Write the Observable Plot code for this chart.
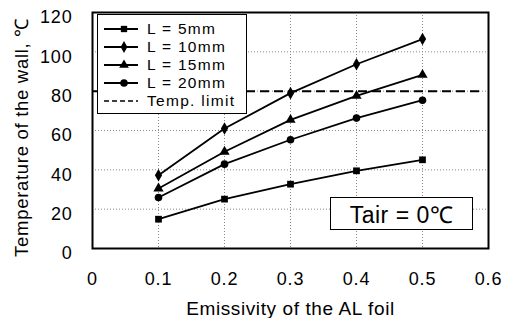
<!DOCTYPE html>
<html>
<head>
<meta charset="utf-8">
<script src="https://cdn.jsdelivr.net/npm/d3@7"></script>
<script src="https://cdn.jsdelivr.net/npm/@observablehq/plot@0.6"></script>
<style>
  html, body { margin: 0; padding: 0; background: #fff; }
  #wrap { position: relative; width: 511px; height: 318px; font-family: "Liberation Sans", Arial, sans-serif; color: #000; }
  #legend { position: absolute; left: 97px; top: 14px; width: 150px; height: 100px; background: #fff; border: 1.5px solid #000; box-sizing: border-box; padding-top: 5px; }
  .row { display: flex; align-items: center; height: 18px; font-size: 15.5px; letter-spacing: 1.3px; }
  .row svg { margin-left: 6px; margin-right: 9px; }
  #tair { position: absolute; left: 330px; top: 197px; width: 143px; height: 33px; background: #fff; border: 1.5px solid #000; box-sizing: border-box; font-size: 23px; letter-spacing: 0.5px; display: flex; align-items: center; justify-content: center; }
</style>
</head>
<body>
<div id="wrap"></div>
<script>
const emissivity = [0.1, 0.2, 0.3, 0.4, 0.5];
const L5  = [14.9, 25.1, 32.7, 39.5, 45.1];
const L10 = [37.3, 61, 79, 93.7, 106.5];
const L15 = [30.5, 49.2, 65.4, 77.6, 88.3];
const L20 = [25.9, 42.9, 55.3, 66.3, 75.4];
const seriesNames = ["L = 5mm", "L = 10mm", "L = 15mm", "L = 20mm"];
const seriesSymbols = ["square", "diamond", "triangle", "circle"];
const tempLimit = 80;
const limitLabel = "Temp. limit";
const xTicks = [0, 0.1, 0.2, 0.3, 0.4, 0.5, 0.6];
const yTicks = [0, 20, 40, 60, 80, 100, 120];
const xLabel = "Emissivity of the AL foil";
const yLabel = "Temperature of the wall, \u2103";
const note = "Tair = 0\u2103";

const allSeries = [L5, L10, L15, L20];
const data = [];
allSeries.forEach((vals, i) => vals.forEach((v, j) => data.push({x: emissivity[j], y: v, s: seriesNames[i]})));

const chart = Plot.plot({
  width: 511, height: 318,
  marginLeft: 92, marginRight: 23, marginTop: 12, marginBottom: 70,
  style: {fontFamily: '"Liberation Sans", Arial, sans-serif', color: "#000", background: "#fff"},
  x: {domain: [0, 0.6]},
  y: {domain: [0, 120]},
  symbol: {domain: seriesNames, range: seriesSymbols},
  marks: [
    Plot.gridX(emissivity, {stroke: "#888", strokeOpacity: 1, strokeDasharray: "1,2"}),
    Plot.gridY(yTicks.slice(1, -1), {stroke: "#888", strokeOpacity: 1, strokeDasharray: "1,2"}),
    Plot.ruleY([tempLimit], {stroke: "#000", strokeWidth: 2, strokeDasharray: "9,5", insetRight: 8}),
    Plot.line(data, {x: "x", y: "y", z: "s", stroke: "#000", strokeWidth: 1.8}),
    Plot.dot(data, {x: "x", y: "y", symbol: "s", fill: "#000", stroke: "none", r: 3.8}),
    Plot.frame({stroke: "#000", strokeWidth: 2}),
    Plot.axisX({ticks: xTicks, tickSize: 0, tickPadding: 24, fontSize: 18, tickFormat: d => d === 0 ? "0" : d3.format(".1f")(d),
      label: xLabel, labelAnchor: "center", labelArrow: "none", labelOffset: 66}),
    Plot.axisY({ticks: yTicks, tickSize: 0, tickPadding: 20, fontSize: 18, dy: 5,
      label: yLabel, labelAnchor: "center", labelArrow: "none", labelOffset: 78})
  ]
});
const wrap = document.getElementById("wrap");
wrap.appendChild(chart);
chart.querySelectorAll("g[aria-label='x-axis tick label'] text, g[aria-label='y-axis tick label'] text").forEach(t => t.setAttribute("letter-spacing", "0.8"));
chart.querySelectorAll("g[aria-label='x-axis label'] text").forEach(t => { t.setAttribute("font-size", 19); t.setAttribute("letter-spacing", "0.6"); });
const ys = chart.scale("y");
const yMid = (ys.apply(0) + ys.apply(120)) / 2;
chart.querySelectorAll("g[aria-label='y-axis label'] text").forEach(t => {
  t.setAttribute("font-size", 18.5);
  t.setAttribute("letter-spacing", "0.7");
  t.setAttribute("dx", -(137 - yMid));
});

// Legend
const legend = document.createElement("div");
legend.id = "legend";
const symbolPath = {
  square: d3.symbol(d3.symbolSquare, 40)(),
  diamond: d3.symbol(d3.symbolDiamond, 40)(),
  triangle: d3.symbol(d3.symbolTriangle, 40)(),
  circle: d3.symbol(d3.symbolCircle, 45)()
};
seriesNames.forEach((name, i) => {
  const row = document.createElement("div");
  row.className = "row";
  row.innerHTML = `<svg width="34" height="12"><line x1="0" x2="34" y1="6" y2="6" stroke="#000" stroke-width="1.8"/><path transform="translate(20,6)" d="${symbolPath[seriesSymbols[i]]}" fill="#000"/></svg><span>${name}</span>`;
  legend.appendChild(row);
});
const lrow = document.createElement("div");
lrow.className = "row";
lrow.innerHTML = `<svg width="34" height="12"><line x1="0" x2="34" y1="6" y2="6" stroke="#000" stroke-width="1.6" stroke-dasharray="5,3"/></svg><span>${limitLabel}</span>`;
legend.appendChild(lrow);
wrap.appendChild(legend);

const box = document.createElement("div");
box.id = "tair";
box.textContent = note;
wrap.appendChild(box);
</script>
</body>
</html>
